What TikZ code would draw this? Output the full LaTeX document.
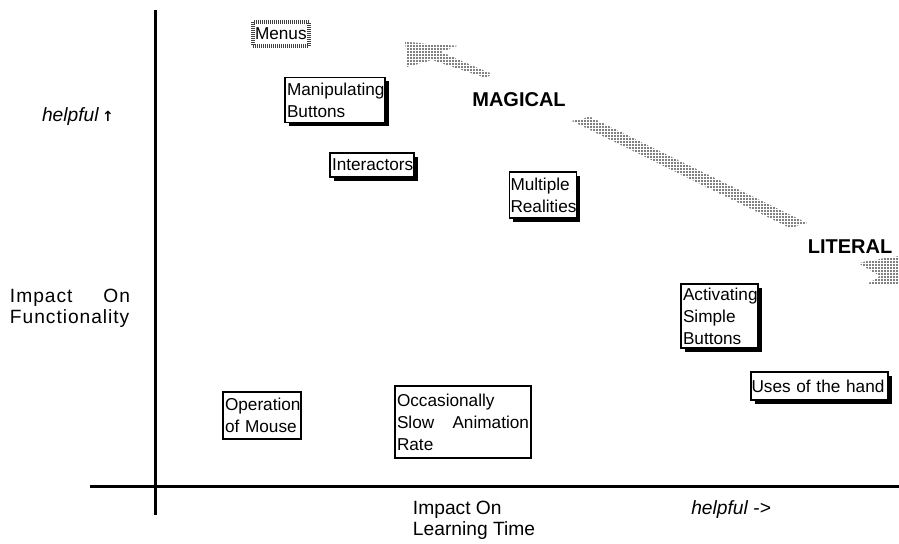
\documentclass[tikz,border=0pt]{standalone}
\usepackage{fontspec}
\setmainfont{Liberation Sans}
\newfontfamily\arrowfont{DejaVu Sans}
\usetikzlibrary{shadows}
\usetikzlibrary{patterns.meta}

\tikzset{
  box/.style={draw, fill=white, line width=0.7pt, inner xsep=1pt, inner ysep=1pt,
    align=left, font=\fontsize{8.6}{11}\selectfont},
  shadowbox/.style={box, drop shadow={shadow xshift=1.8pt, shadow yshift=-1.8pt, fill=black, opacity=1}},
  thinbox/.style={box, line width=0.6pt},
  stipplebox/.style={box, draw=black!75, line width=1.6pt, dash pattern=on 0.5pt off 0.5pt},
  axis/.style={line width=1.5pt},
  axislabel/.style={inner sep=0pt, align=left, font=\fontsize{9.6}{10.5}\selectfont},
  pole/.style={inner sep=0pt, font=\bfseries\fontsize{10}{12}\selectfont},
  stipple/.style={pattern={Dots[distance=1.5pt, radius=0.45pt]}, pattern color=black}
}

\begin{document}
\begin{tikzpicture}[x=0.5pt,y=-0.5pt]
  \useasboundingbox (0,0) rectangle (899,544);

  % axes
  \coordinate (ytop) at (155,10);
  \coordinate (ybot) at (155,515);
  \coordinate (xleft) at (90,487);
  \coordinate (xright) at (899,487);
  \draw[axis] (ytop) -- (ybot);
  \draw[axis] (xleft) -- (xright);

  \node[axislabel] (yhelp) at (78,117) {\textit{helpful}\,{\arrowfont\bfseries\fontsize{7}{8}\selectfont ↑}};
  \node[axislabel, text width=60pt] (yname) at (70,308)
    {\addfontfeature{LetterSpace=5}Impact \hfill On\\Functionality};
  \node[axislabel] (xname) at (474,520) {Impact On\\Learning Time};
  \node[axislabel] (xhelp) at (731,510) {\textit{helpful ->}};

  % boxes
  \node[stipplebox, text width=26pt, minimum height=12pt] (menus) at (281,34) {Menus};
  \node[shadowbox, text width=48pt, minimum height=22.5pt] (manip) at (335,100) {Manipulating\\Buttons};
  \node[shadowbox, text width=40pt, minimum height=12pt] (inter) at (372,165) {Interactors};
  \node[shadowbox, text width=32.5pt, inner xsep=0.5pt, minimum height=23pt] (multi) at (543,195) {Multiple\\Realities};
  \node[shadowbox, text width=36.5pt, minimum height=32pt] (activ) at (719.5,316) {Activating\\Simple\\Buttons};
  \node[shadowbox, text width=68pt, inner xsep=0.3pt, minimum height=14pt] (hands) at (819.5,386) {Uses of the hand};
  \node[thinbox, text width=37pt, minimum height=23.5pt] (mouse) at (262,415.5) {Operation\\of Mouse};
  \node[thinbox, text width=66pt, minimum height=36pt] (anim) at (463,422) {Occasionally\\Slow \hfill Animation\\Rate};

  % magical -- literal scale
  \node[pole] (magical) at (519,100) {MAGICAL};
  \node[pole] (literal) at (850,247) {LITERAL};
  \coordinate (magtip) at (405,42);
  \coordinate (littip) at (899,285);
  \fill[stipple] (magtip) -- (457,46) -- (441,52) -- (492,74) -- (486,78) -- (432,60) -- (407,67) -- cycle;
  \fill[stipple] (572,121) -- (590,117) -- (807,223) -- (790,228) -- cycle;
  \fill[stipple] (858,263) -- (886,258) -- (899,256) -- (littip) -- (866,285) -- (880,276) -- cycle;
\end{tikzpicture}
\end{document}
